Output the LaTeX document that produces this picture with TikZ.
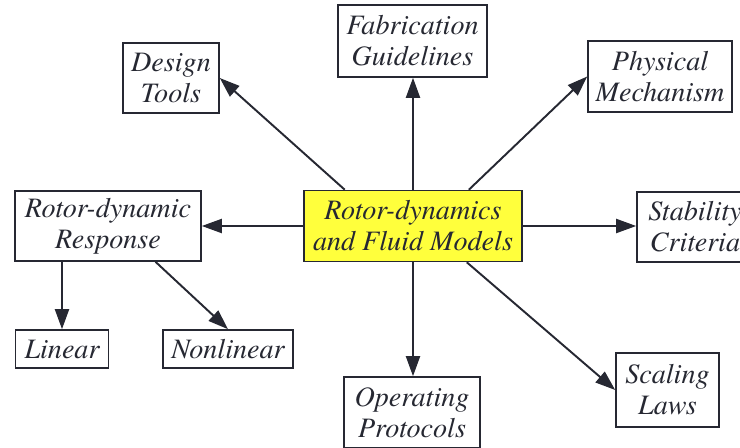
\documentclass[tikz,border=0pt]{standalone}
\usepackage{fontspec}
\IfFontExistsTF{texgyretermes-italic.otf}
  {\newfontfamily\topicfont{texgyretermes}[Extension=.otf,UprightFont=*-regular,ItalicFont=*-italic]}
  {\let\topicfont\rmfamily}
\usetikzlibrary{arrows.meta}
\definecolor{inkgray}{RGB}{38,40,50}
\definecolor{coreyellow}{RGB}{255,255,60}
\tikzset{
  topic/.style={draw=inkgray,line width=0.9pt,fill=white,inner sep=0pt,align=center,
    text=inkgray,font=\fontsize{16}{17.6}\selectfont\topicfont\itshape},
  core/.style={topic,fill=coreyellow},
  link/.style={line width=1.1pt,draw=inkgray,-{Triangle[length=4mm,width=2.8mm]}}
}

\begin{document}
\begin{tikzpicture}
    \useasboundingbox (0,0) rectangle (14.8,8.94);
    \node [core,minimum width=4.36cm,minimum height=1.42cm] (models) at (8.26,4.42) {Rotor-dynamics\\and Fluid Models};
    \node [topic,minimum width=2.98cm,minimum height=1.44cm] (fabrication) at (8.25,8.12) {Fabrication\\Guidelines};
    \node [topic,minimum width=1.92cm,minimum height=1.40cm] (design) at (3.42,7.38) {Design\\Tools};
    \node [topic,minimum width=2.88cm,minimum height=1.42cm] (mechanism) at (13.20,7.41) {Physical\\Mechanism};
    \node [topic,minimum width=3.72cm,minimum height=1.40cm] (response) at (2.16,4.42) {Rotor-dynamic\\Response};
    \node [topic,minimum width=2.32cm,minimum height=1.40cm] (stability) at (13.90,4.40) {Stability\\Criteria};
    \node [topic,minimum width=2.06cm,minimum height=1.48cm] (scaling) at (13.35,1.14) {Scaling\\Laws};
    \node [topic,minimum width=2.72cm,minimum height=1.42cm] (protocols) at (8.24,0.69) {Operating\\Protocols};
    \node [topic,minimum width=1.86cm,minimum height=0.76cm] (linear) at (1.24,1.96) {Linear};
    \node [topic,minimum width=2.60cm,minimum height=0.76cm] (nonlinear) at (4.56,1.96) {Nonlinear};

    \draw [link] (models.north) -- (fabrication.south -| models.north);
    \draw [link] (models.152) -- (design.east);
    \draw [link] (models.33) -- (mechanism.west);
    \draw [link] (models.west) -- (models.west -| response.east);
    \draw [link] (models.east) -- (models.east -| stability.west);
    \draw [link] (models.-34) -- (scaling.west);
    \draw [link] (models.south) -- (protocols.north -| models.south);
    \draw [link] (linear.north |- response.south) -- (linear.north);
    \draw [link] (response.-37) -- (nonlinear.north);
\end{tikzpicture}
\end{document}
